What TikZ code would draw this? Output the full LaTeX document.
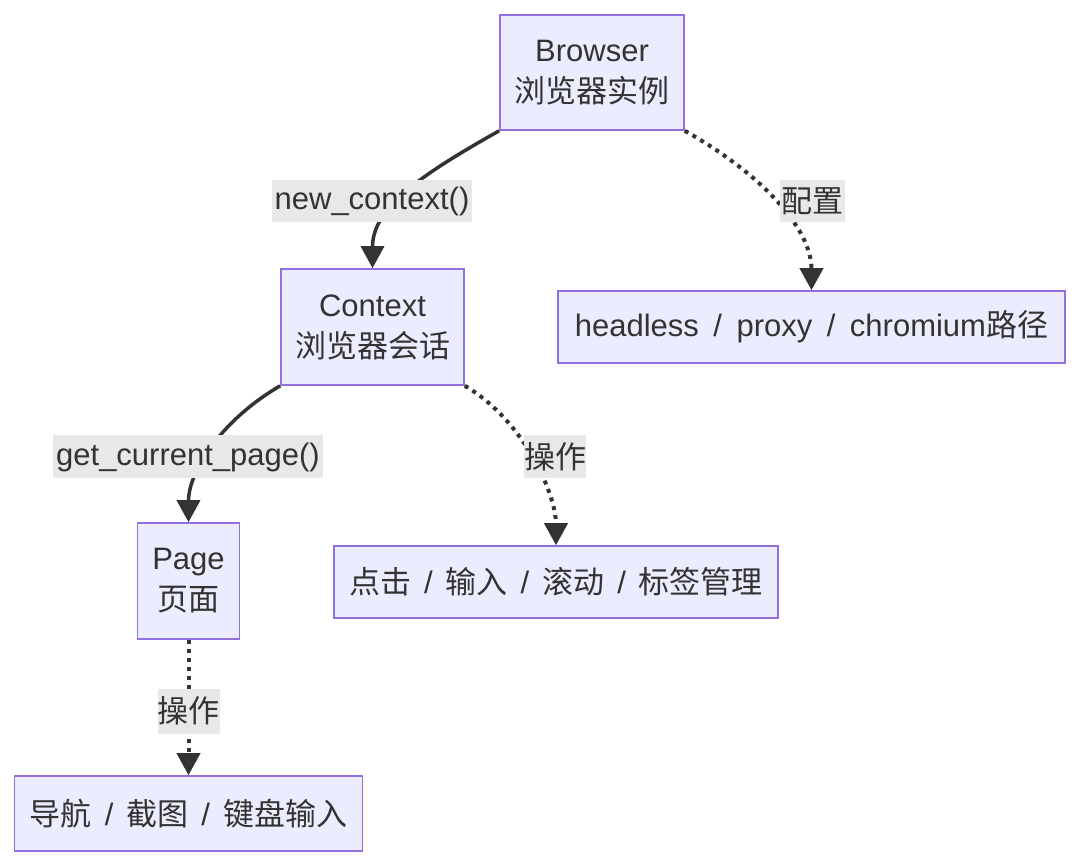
\documentclass[tikz,border=0pt]{standalone}
\usepackage{fontspec}
\setmainfont{Liberation Sans}
\newfontfamily\cjk{Noto Sans CJK SC}
\usetikzlibrary{arrows.meta}
\definecolor{nodefill}{HTML}{ECECFF}
\definecolor{nodeborder}{HTML}{9370DB}
\definecolor{ink}{HTML}{333333}
\definecolor{lblbg}{HTML}{E8E8E8}
\newcommand\zh[1]{{\cjk #1}}
\newcommand\sepsl{\hspace{14.5pt}/\hspace{14.5pt}}
\newcommand\zhsl{\hspace{13pt}/\hspace{13pt}}
\begin{document}
\begin{tikzpicture}[x=1pt,y=-1pt,
  box/.style={draw=nodeborder, fill=nodefill, line width=1.6pt, inner sep=0pt, align=center, text=ink, font=\fontsize{31}{41}\selectfont},
  lbl/.style={fill=lblbg, inner sep=0pt, text=ink, font=\fontsize{31}{41}\selectfont},
  solidedge/.style={draw=ink, line width=3.5pt, -{Triangle[length=22pt,width=23pt]}},
  dotedge/.style={draw=ink, line width=4pt, dash pattern=on 4pt off 5pt, -{Triangle[length=22pt,width=23pt]}}]
\useasboundingbox[fill=white] (0,0) rectangle (1080,866);

\node[box, minimum width=184pt, minimum height=115pt] (browser) at (592,72.5) {Browser\\\zh{浏览器实例}};
\node[box, minimum width=183pt, minimum height=116pt] (context) at (372.5,327) {Context\\\zh{浏览器会话}};
\node[box, minimum width=507pt, minimum height=72pt] (headless) at (811.5,327) {headless\sepsl proxy\sepsl chromium\zh{路径}};
\node[box, minimum width=102pt, minimum height=116pt] (page) at (188.5,581) {Page\\\zh{页面}};
\node[box, minimum width=444pt, minimum height=72pt] (clicks) at (556,582) {\zh{点击}\zhsl\zh{输入}\zhsl\zh{滚动}\zhsl\zh{标签管理}};
\node[box, minimum width=348pt, minimum height=75pt] (nav) at (188.5,813.5) {\zh{导航}\zhsl\zh{截图}\zhsl\zh{键盘输入}};

\draw[solidedge] (browser.south west) .. controls +(-80,45) and +(0,-60) .. (context.north);
\draw[dotedge] (browser.south east) .. controls +(80,45) and +(0,-60) .. (headless.north);
\draw[solidedge] (context.south west) .. controls +(-60,35) and +(0,-50) .. (page.north);
\draw[dotedge] (context.south east) .. controls +(60,35) and +(0,-50) .. (clicks.north);
\draw[dotedge] (page.south) -- (nav.north);

\node[lbl, minimum width=200pt, minimum height=42pt] (l1) at (372,201) {new\_context()};
\node[lbl, minimum width=65pt, minimum height=42pt] (l2) at (812,201) {\zh{配置}};
\node[lbl, minimum width=270pt, minimum height=43pt] (l3) at (188,457) {get\_current\_page()};
\node[lbl, minimum width=60pt, minimum height=43pt] (l4) at (555,457) {\zh{操作}};
\node[lbl, minimum width=60pt, minimum height=45pt] (l5) at (188.5,711) {\zh{操作}};
\end{tikzpicture}
\end{document}
